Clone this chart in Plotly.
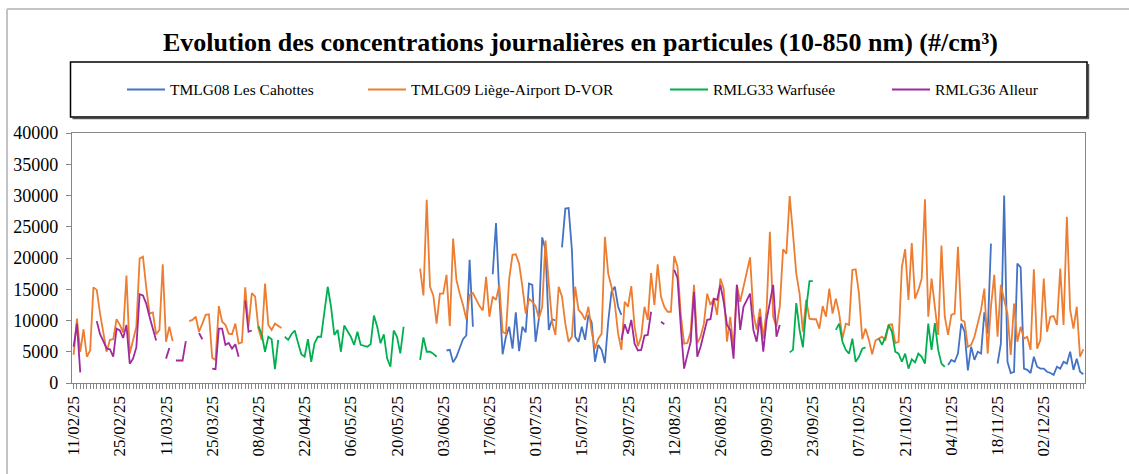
import pandas as pd
import plotly.graph_objects as go

# Daily category axis (one point per day)
start_day = "2025-02-11"
end_day = "2025-12-14"
tick_step_days = 14
tick_format = "%d/%m/%y"

title_text = "Evolution des concentrations journalières en particules (10-850 nm) (#/cm³)"

series_names = [
    "TMLG08 Les Cahottes",
    "TMLG09 Liège-Airport D-VOR",
    "RMLG33 Warfusée",
    "RMLG36 Alleur",
]
series_colors = ["#4472C4", "#ED7D31", "#00B050", "#A0299B"]

# Daily particle counts (#/cm³); each block starts at the given date, gaps = no data
tmlg08_blocks = [
    ("2025-06-04", [5200, 5300, 3300, 4200, 5600, 7000, 7600, 19700, 9000]),
    ("2025-06-18", [17400, 25600, 14000, 4600, 7400, 9000, 5500, 11300, 5100, 9000,
                    8100, 15900, 15700, 6600, 10300, 23300, 21300, 8500, 10200, 10000]),
    ("2025-07-09", [21700, 27900, 28000, 21300, 7400, 6600, 9000, 6900, 10900, 9700,
                    3400, 6100, 5300, 3200, 9800, 14600, 15400, 12200, 10900]),
    ("2025-11-03", [2900, 3700, 3400, 4700, 9500, 8200, 2000, 5800, 3700, 5000,
                    4700, 11300, 7900, 22300, None, 3100, 6300, 30000, 3400, 1600,
                    1800, 19100, 18500, 2300, 2100, 1600, 4200, 2600, 2300, 2300,
                    1800, 1600, 1300, 2600, 2300, 3400, 3100, 5000, 2100, 3900,
                    1800, 1400]),
]

tmlg09_blocks = [
    ("2025-02-11", [4500, 10300, 5000, 8600, 4200, 5200, 15300, 14900, 11100, 7900,
                    5000, 6900, 7000, 10200, 9300, 8100, 17200, 4700, 6800, 9000,
                    19900, 20200, 15300, 11100, 11300, 7800, 8500, 19000, 6600, 9000,
                    6700]),
    ("2025-03-18", [9900, 10100, 10600, 8200, 9500, 10900, 11000, 4000, 3700, 12300,
                    9800, 9300, 7900, 7800, 9500, 6300, 6500, 15300, 9000, 14400,
                    13800, 8700, 6900, 15900, 9300, 8500, 9500, 9200, 8800]),
    ("2025-05-27", [18300, 14000, 29300, 15400, 14000, 9500, 14300, 14300, 17300, 9100,
                    23100, 16500, 14300, 12500, 10200, 14100, 14400, 13300, 12300, 11600,
                    17000, 10600, 13800, 13300, 15700]),
    ("2025-06-21", [8200, 7900, 16700, 20500, 20600, 19100, 15400, 11100, 13500, 13000,
                    12300, 10300, 12200, 22800, 15900, 9800, 7700, 15400, 13800, 9500,
                    6600, 7400, 15400, 11700, 11100, 10100, 12200, 8200, 5500, 7100,
                    7900, 23400, 17500, 15400, 12700, 7900, 5300, 13000, 12200, 15500,
                    9000, 5900, 7400, 12200, 10100]),
    ("2025-08-05", [17600, 12500, 19000, 13800, 12200, 11400, 11400, 20300, 18600, 11000,
                    6300, 6400, 8200, 15700, 6400, 7400, 9500, 14300, 12500, 13500,
                    10900, 16700, 15100, 6600, 10600, 5300, 15700, 13000, 15400, 18100,
                    20100, 11100, 8500, 11900, 7100, 11700, 24200, 10600, 9000, 12200,
                    21400, 20700, 29900, 23900, 17500]),
    ("2025-09-19", [14300, 8200, 13300, 10300, 10200, 10200, 8700, 12300, 10600, 15100,
                    11100, 13500, 11100, 7100, 9500, 9300, 18100, 18200, 14300, 7000,
                    8700, 6900, 4600, 6800, 7100, 7400, 6800, 9300, 9400, 6400,
                    6600, 18600, 21400, 13300, 22400, 13500, 14900, 16700, 29400, 10600,
                    16700, 12200, 7700, 22000, 10600, 7700, 10900, 11100, 21800]),
    ("2025-11-07", [10100, 9800, 5800, 6100, 7400, 9500, 11700, 15100, 4700, 12200,
                    17300, 7400, 15700, 13300, 11100, 4500, 12700, 6600, 9000, 7100,
                    7400, 5300, 18200, 5500, 6900, 16700, 8200, 10600, 10700, 9300,
                    18300, 9300, 26600, 11700, 8700, 12200, 4200, 5400]),
]

rmlg33_blocks = [
    ("2025-04-08", [9100, 7800, 5000, 7400, 7000, 2200, 6900]),
    ("2025-04-16", [7400, 6900, 7800, 8400, 6450, 4600, 4200, 7000, 3400, 6350,
                    7400, 7400, 11400, 15400, 12200, 7700, 8500, 5000, 9200, 8200,
                    7400, 6100, 8200, 6100, 6000, 5800, 6200, 10800, 9000, 6350,
                    7800, 3950, 2600, 8400, 7400, 4750, 9000]),
    ("2025-05-27", [3700, 7300, 5000, 5000, 4700, 4200]),
    ("2025-09-16", [4900, 5300, 12800, 8500, 5700, 11900, 16300, 16300]),
    ("2025-09-30", [8500, 9500, 6600, 5300, 4700, 7100, 3400, 4200, 5500, 5700]),
    ("2025-10-13", [7100, 6100, 7400, 9300, 8200, 5000, 4700, 3400, 4700, 2300,
                    3800, 3300, 4700, 4200, 3100, 9500, 5300, 9600, 5300, 3100,
                    2600]),
]

rmlg36_blocks = [
    ("2025-02-11", [5800, 9500, 1700]),
    ("2025-02-18", [9900, 7800, 6700, 5500, 5400, 4200, 8700, 8400, 7200, 9300,
                    3100, 3900, 5700, 14200, 14000, 12700, 10600, 8600, 6800]),
    ("2025-03-11", [3900, 5600]),
    ("2025-03-14", [3600, 3600, 3600, 6700]),
    ("2025-03-21", [8000, 7000]),
    ("2025-03-25", [2300, 2200, 8700, 8700, 6100, 6400, 5500, 6200, 4200]),
    ("2025-04-04", [13200, 8200, 8400]),
    ("2025-07-27", [6900, 9400, 7900, 10100, 6300, 5200, 5300, 7600, 7700, 11400]),
    ("2025-08-08", [9800, 9400]),
    ("2025-08-12", [18100, 16800, 9000, 2300, 4500, 6600, 14600, 4200, 5800, 8000,
                    10100, 10200, 13500, 13300, 15700, 13000, 9300, 8500, 3900, 15700,
                    8500, 12200, 13300, 14300, 8500, 6600, 10600, 5000, 10100, 12800,
                    15700, 7400, 9300]),
]

y_max = 40000
y_step = 5000

days = pd.date_range(start_day, end_day, freq="D")


def daily_series(blocks):
    s = pd.Series([None] * len(days), index=days, dtype="object")
    for first, values in blocks:
        idx = pd.date_range(first, periods=len(values), freq="D")
        for d, v in zip(idx, values):
            if d in s.index:
                s[d] = v
    return s.tolist()


all_blocks = [tmlg08_blocks, tmlg09_blocks, rmlg33_blocks, rmlg36_blocks]

fig = go.Figure()
for name, color, blocks in zip(series_names, series_colors, all_blocks):
    fig.add_trace(go.Scatter(
        x=days, y=daily_series(blocks), name=name, mode="lines",
        line=dict(color=color, width=1.8), connectgaps=False, showlegend=False,
    ))

W, H = 1129, 474
ML, MR, MT, MB = 72, 44, 133, 91
PW, PH = W - ML - MR, H - MT - MB


def px(x):
    return (x - ML) / PW


def py(y):
    return (H - MB - y) / PH


serif = "Liberation Serif"
axis_grey = "#868686"

shapes = []
annotations = []

# outer chart frame (left and top edges)
shapes.append(dict(type="line", xref="paper", yref="paper", x0=px(7), x1=px(7),
                   y0=py(9), y1=py(H + 5), line=dict(color="#c4c4c4", width=2)))
shapes.append(dict(type="line", xref="paper", yref="paper", x0=px(7), x1=px(W + 5),
                   y0=py(9), y1=py(9), line=dict(color="#c4c4c4", width=2)))

# title
annotations.append(dict(text="<b>" + title_text + "</b>", xref="paper", yref="paper",
                        x=px(580), y=py(43), xanchor="center", yanchor="middle",
                        showarrow=False, font=dict(family=serif, size=26, color="black")))

# legend box with a slight shadow on bottom/right
box = (70.5, 62, 1087, 117)
shapes.append(dict(type="line", xref="paper", yref="paper", x0=px(box[0] + 2), x1=px(box[2] + 2),
                   y0=py(box[3] + 1.5), y1=py(box[3] + 1.5), line=dict(color="#555555", width=1.5)))
shapes.append(dict(type="line", xref="paper", yref="paper", x0=px(box[2] + 1.5), x1=px(box[2] + 1.5),
                   y0=py(box[1] + 2), y1=py(box[3] + 1.5), line=dict(color="#555555", width=1.5)))
shapes.append(dict(type="rect", xref="paper", yref="paper", x0=px(box[0]), x1=px(box[2]),
                   y0=py(box[3]), y1=py(box[1]), line=dict(color="black", width=1.5),
                   fillcolor="rgba(0,0,0,0)"))

legend_y = 89.5
legend_line_starts = [127, 368, 670, 892]
for name, color, x0 in zip(series_names, series_colors, legend_line_starts):
    shapes.append(dict(type="line", xref="paper", yref="paper", x0=px(x0), x1=px(x0 + 38),
                       y0=py(legend_y), y1=py(legend_y), line=dict(color=color, width=2)))
    annotations.append(dict(text=name, xref="paper", yref="paper", x=px(x0 + 41), y=py(legend_y),
                            xanchor="left", yanchor="middle", showarrow=False,
                            font=dict(family=serif, size=15.5, color="black")))

fig.update_layout(
    template="none",
    width=W, height=H, autosize=False,
    margin=dict(l=ML, r=MR, t=MT, b=MB, pad=0),
    paper_bgcolor="white", plot_bgcolor="white",
    font=dict(family=serif, color="black"),
    shapes=shapes, annotations=annotations,
    showlegend=False,
)

fig.update_xaxes(
    type="date",
    range=[days[0] - pd.Timedelta(hours=12), days[-1] + pd.Timedelta(hours=12)],
    tickmode="linear", tick0=start_day, dtick=tick_step_days * 86400000,
    tickformat=tick_format, tickangle=-90,
    ticks="outside", ticklen=5, tickcolor=axis_grey,
    minor=dict(ticks="outside", ticklen=5, tickcolor=axis_grey, dtick=86400000,
               tick0=start_day, showgrid=False),
    showline=True, linecolor=axis_grey, linewidth=1.3, mirror=True,
    showgrid=False, zeroline=False,
    tickfont=dict(family=serif, size=17, color="black"),
)

fig.update_yaxes(
    range=[0, y_max], tickmode="linear", tick0=0, dtick=y_step, tickformat="d",
    ticks="outside", ticklen=5, tickcolor=axis_grey,
    showline=True, linecolor=axis_grey, linewidth=1.3, mirror=True,
    showgrid=False, zeroline=False,
    ticklabelstandoff=4,
    tickfont=dict(family=serif, size=18, color="black"),
)

fig.write_html("out.html")
